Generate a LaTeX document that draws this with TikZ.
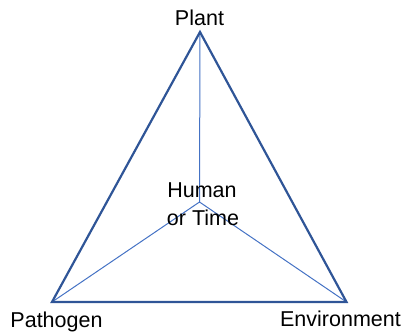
\documentclass[tikz,border=0pt]{standalone}
\usepackage{fontspec}
\setmainfont{Liberation Sans}
\definecolor{outerblue}{HTML}{2F5597}
\definecolor{innerblue}{HTML}{4472C4}
\begin{document}
\begin{tikzpicture}[x=1pt,y=-1pt,
  lbl/.style={anchor=base,inner sep=0pt,font=\fontsize{21.5}{26}\selectfont},
  outer/.style={draw=outerblue,line width=2.2pt,line join=miter},
  inner/.style={draw=innerblue,line width=1pt}]
\useasboundingbox (0,0) rectangle (402,333);
\coordinate (A) at (200,32);
\coordinate (B) at (52,302);
\coordinate (C) at (346.5,302);
\coordinate (O) at (199.5,202);
\draw[inner] (A) -- (O) (B) -- (O) -- (C);
\draw[outer] (A) -- (B) -- (C) -- cycle;
\node[lbl] (plant) at (199.5,25) {Plant};
\node[lbl] (path) at (56.5,327) {Pathogen};
\node[lbl] (env) at (340.5,326) {Environment};
\node[lbl] (hum) at (202,197) {Human};
\node[lbl] (time) at (203,225) {or Time};
\end{tikzpicture}
\end{document}
